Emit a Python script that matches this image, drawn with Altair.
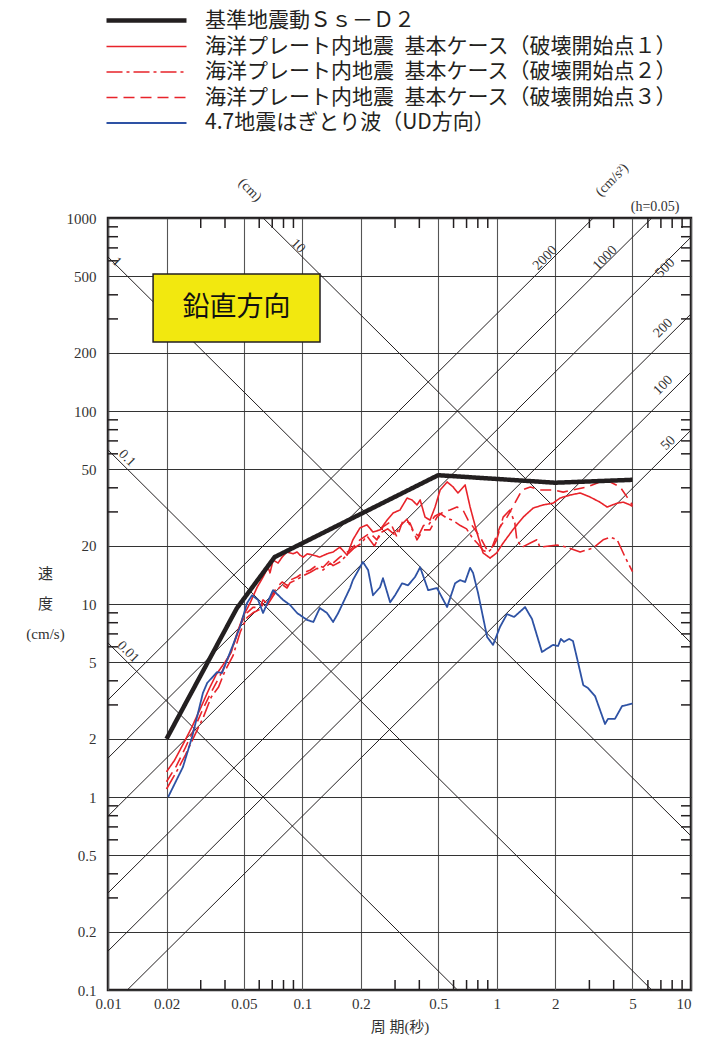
import math
import altair as alt
import pandas as pd

# ---------------- data ----------------
SERIES = [
    "基準地震動Ｓｓ－Ｄ２",
    "海洋プレート内地震\u2002基本ケース（破壊開始点１）",
    "海洋プレート内地震\u2002基本ケース（破壊開始点２）",
    "海洋プレート内地震\u2002基本ケース（破壊開始点３）",
    "4.7地震はぎとり波（UD方向）",
]
COLORS = ["#231F20", "#E8232A", "#E8232A", "#E8232A", "#2E52A4"]
DASHES = [[1, 0], [1, 0], [16, 4, 3, 4], [11, 6], [1, 0]]
WIDTHS = [4.5, 1.6, 1.6, 1.6, 1.8]

T_ss = [0.02, 0.046, 0.072, 0.5, 2.0, 5.0]
V_ss = [2.0, 9.5, 17.5, 46.5, 42.5, 44.0]

T_r1 = [0.02, 0.022, 0.0245, 0.027, 0.030, 0.033, 0.036, 0.040, 0.043, 0.046, 0.0495, 0.0538,
        0.0585, 0.0628, 0.0666, 0.0682, 0.0707, 0.0750, 0.0787, 0.0834, 0.0896, 0.0940, 0.0973,
        0.101, 0.106, 0.114, 0.123, 0.134, 0.144, 0.156, 0.170, 0.182, 0.198, 0.215, 0.231, 0.251,
        0.273, 0.293, 0.318, 0.346, 0.367, 0.389, 0.404, 0.428, 0.454, 0.482, 0.512, 0.556, 0.597,
        0.632, 0.688, 0.730, 0.793, 0.851, 0.925, 1.00, 1.08, 1.21, 1.37, 1.54, 1.73, 1.95, 2.12,
        2.39, 2.69, 3.03, 3.40, 3.70, 4.17, 4.48, 4.86, 5.0]
V_r1 = [1.35, 1.55, 1.9, 2.3, 2.9, 3.6, 4.3, 5.0, 5.6, 7.0, 8.6, 10.1, 12.2, 13.8, 15.5, 14.5,
        16.9, 16.3, 17.5, 18.6, 18.2, 18.6, 17.9, 17.5, 18.2, 17.9, 17.5, 18.2, 18.6, 19.7, 17.9,
        21.5, 24.8, 25.7, 23.6, 24.2, 27.2, 29.6, 30.7, 35.4, 34.6, 32.6, 34.6, 28.2, 27.2, 31.8,
        39.0, 42.9, 40.4, 37.6, 41.4, 31.8, 23.3, 18.4, 17.3, 18.4, 20.7, 24.2, 28.2, 31.4, 32.6,
        33.3, 35.4, 36.7, 37.6, 35.8, 33.7, 31.8, 33.3, 33.7, 32.6, 32.0]

T_r2 = [0.02, 0.0225, 0.025, 0.028, 0.031, 0.034, 0.037, 0.040, 0.044, 0.048, 0.0519, 0.0557,
        0.0606, 0.0628, 0.0658, 0.0707, 0.0741, 0.0787, 0.0834, 0.0865, 0.094, 0.101, 0.110, 0.119,
        0.128, 0.139, 0.144, 0.156, 0.170, 0.185, 0.200, 0.215, 0.235, 0.255, 0.275, 0.300, 0.320,
        0.345, 0.370, 0.395, 0.420, 0.450, 0.480, 0.510, 0.550, 0.600, 0.650, 0.700, 0.750, 0.800,
        0.850, 0.900, 0.950, 1.00, 1.08, 1.17, 1.24, 1.27, 1.35, 1.49, 1.61, 1.67, 2.05, 2.30,
        2.69, 3.13, 3.53, 3.84, 4.17, 4.58, 5.0]
V_r2 = [1.1, 1.35, 1.65, 2.1, 2.6, 3.3, 3.7, 4.5, 5.4, 7.2, 8.5, 9.0, 9.4, 10.0, 9.8, 11.0, 11.8,
        12.6, 12.1, 12.9, 13.4, 14.0, 14.6, 15.3, 15.0, 16.3, 15.8, 16.5, 18.0, 19.5, 20.5, 22.5,
        20.0, 23.5, 24.5, 22.8, 25.5, 27.5, 24.0, 22.5, 25.5, 26.0, 28.5, 29.5, 28.0, 27.0, 25.5,
        24.5, 22.0, 20.5, 19.0, 18.5, 19.5, 21.5, 28.2, 30.7, 26.3, 21.5, 19.7, 20.7, 21.5, 19.7,
        20.2, 19.7, 18.6, 19.5, 21.5, 22.2, 21.5, 17.5, 14.7]

T_r3 = [0.02, 0.0225, 0.025, 0.028, 0.031, 0.034, 0.037, 0.040, 0.044, 0.048, 0.0519, 0.0557,
        0.0606, 0.0628, 0.0658, 0.0707, 0.0741, 0.0787, 0.0834, 0.0865, 0.094, 0.101, 0.110, 0.119,
        0.128, 0.139, 0.144, 0.156, 0.176, 0.198, 0.223, 0.242, 0.260, 0.283, 0.307, 0.330, 0.358,
        0.389, 0.418, 0.454, 0.493, 0.530, 0.575, 0.625, 0.671, 0.713, 0.756, 0.822, 0.893, 0.947,
        1.04, 1.13, 1.21, 1.35, 1.49, 1.67, 1.95, 2.20, 2.47, 2.92, 3.40, 3.84, 4.32, 4.69, 5.0]
V_r3 = [1.2, 1.45, 1.8, 2.3, 2.9, 3.5, 4.1, 4.8, 6.0, 7.8, 9.0, 9.6, 9.6, 10.5, 10.1, 11.4, 12.2,
        13.0, 12.5, 13.3, 13.8, 14.5, 15.0, 15.9, 15.5, 16.9, 16.3, 17.5, 19.0, 21.5, 23.3, 21.5,
        25.1, 26.6, 22.2, 27.2, 26.3, 21.5, 24.2, 24.2, 28.2, 30.0, 30.7, 31.8, 30.7, 27.2, 25.1,
        22.2, 19.0, 19.7, 25.1, 28.2, 31.8, 39.0, 40.4, 39.0, 39.0, 38.0, 39.0, 40.4, 42.9, 42.9,
        40.4, 35.8, 32.5]

T_b = [0.0204, 0.0243, 0.0271, 0.0308, 0.0324, 0.0364, 0.0386, 0.0410, 0.0478, 0.0519, 0.0551,
       0.0592, 0.0628, 0.0682, 0.0707, 0.0796, 0.0865, 0.0940, 0.106, 0.114, 0.123, 0.134, 0.144,
       0.153, 0.176, 0.182, 0.205, 0.218, 0.231, 0.251, 0.260, 0.283, 0.300, 0.326, 0.350, 0.380,
       0.404, 0.444, 0.493, 0.556, 0.611, 0.648, 0.688, 0.730, 0.756, 0.802, 0.893, 0.958, 1.04,
       1.13, 1.23, 1.40, 1.52, 1.71, 1.95, 2.07, 2.14, 2.22, 2.36, 2.47, 2.62, 2.79, 2.95, 3.21,
       3.61, 3.74, 4.06, 4.42, 4.69, 5.0]
V_b = [1.0, 1.43, 2.05, 3.46, 3.90, 4.44, 4.39, 5.13, 7.60, 10.1, 11.1, 10.5, 8.98, 10.9, 11.8,
       10.5, 9.88, 8.98, 8.26, 8.07, 9.53, 8.98, 8.07, 8.98, 12.1, 13.3, 16.5, 15.0, 11.1, 12.2,
       13.6, 10.2, 11.1, 12.8, 12.5, 13.8, 15.5, 11.8, 12.1, 9.64, 12.8, 13.3, 13.0, 15.4, 14.5,
       11.4, 6.75, 6.14, 7.60, 8.87, 8.57, 9.64, 8.36, 5.64, 6.14, 6.06, 6.59, 6.36, 6.59, 6.43,
       5.00, 3.80, 3.67, 3.33, 2.39, 2.54, 2.54, 2.96, 3.00, 3.05]

# axes / grid
XT = [0.01, 0.02, 0.05, 0.1, 0.2, 0.5, 1, 2, 5, 10]
YT = [0.1, 0.2, 0.5, 1, 2, 5, 10, 20, 50, 100, 200, 500, 1000]
X_MINOR = [0.03, 0.04, 0.06, 0.07, 0.08, 0.09, 0.3, 0.4, 0.6, 0.7, 0.8, 0.9, 3, 4, 6, 7, 8, 9]
Y_MINOR = [0.3, 0.4, 0.6, 0.7, 0.8, 0.9, 3, 4, 6, 7, 8, 9, 30, 40, 60, 70, 80, 90,
           300, 400, 600, 700, 800, 900]

# tripartite guide lines: displacement (cm) and acceleration (cm/s2)
DISP = [0.01, 0.1, 1, 10]
ACC = [50, 100, 200, 500, 1000, 2000]

# guide labels (text, T, V, angle)
ANN_TEXT = ["1", "10", "0.1", "0.01", "2000", "1000", "500", "200", "100", "50",
            "(cm)", "(cm/s²)", "(h=0.05)"]
ANN_T = [0.0111, 0.0950, 0.01253, 0.01268, 1.775, 3.61, 7.36, 7.18, 7.18, 7.62,
         0.0538, 3.93, 6.54]
ANN_V = [592, 716, 57.0, 5.64, 621, 621, 551, 269, 136, 68.2, 1396, 1574, 1140]
ANN_ANGLE = [45, 45, 45, 45, 315, 315, 315, 315, 315, 315, 45, 315, 0]

BOX_T = [0.01706, 0.1233]
BOX_V = [228, 513]
BOX_LABEL = "鉛直方向"

# ---------------- tables ----------------
rows = []
for name, ts, vs in zip(SERIES, [T_ss, T_r1, T_r2, T_r3, T_b], [V_ss, V_r1, V_r2, V_r3, V_b]):
    for i, (t, v) in enumerate(zip(ts, vs)):
        rows.append({"series": name, "T": t, "V": v, "i": i})
curves = pd.DataFrame(rows)

TWO_PI = 2 * math.pi
drows = []
for d in DISP:
    for t in (max(0.01, TWO_PI * d / 1000), min(10, TWO_PI * d / 0.1)):
        drows.append({"key": f"d{d}", "T": t, "V": TWO_PI * d / t})
for a in ACC:
    for t in (max(0.01, TWO_PI * 0.1 / a), min(10, TWO_PI * 1000 / a)):
        drows.append({"key": f"a{a}", "T": t, "V": a * t / TWO_PI})
diag = pd.DataFrame(drows)

ann = pd.DataFrame({"text": ANN_TEXT, "T": ANN_T, "V": ANN_V, "angle": ANN_ANGLE})
box = pd.DataFrame({"T": [BOX_T[0]], "T2": [BOX_T[1]], "V": [BOX_V[0]], "V2": [BOX_V[1]],
                    "Tc": [math.sqrt(BOX_T[0] * BOX_T[1])], "Vc": [math.sqrt(BOX_V[0] * BOX_V[1])],
                    "label": [BOX_LABEL]})
xminor = pd.DataFrame({"T": X_MINOR})
yminor = pd.DataFrame({"V": Y_MINOR})

# ---------------- scales / axes ----------------
W, H = 583, 772
SERIF = "Liberation Serif, Noto Sans CJK JP"
xs = alt.Scale(type="log", domain=[0.01, 10], nice=False)
ys = alt.Scale(type="log", domain=[0.1, 1000], nice=False)

xaxis = alt.Axis(values=XT, grid=True, gridColor="#555555", gridWidth=1.1, ticks=False,
                 domain=False, labelFont=SERIF, labelFontSize=15, labelColor="#333333",
                 labelPadding=6, labelFlush=False, labelOverlap=False, format="~g",
                 labelAlign={"condition": {"test": "datum.value >= 10", "value": "right"},
                             "value": "center"},
                 titleFont=SERIF, titleFontSize=15, titleFontWeight="normal",
                 titleColor="#333333", titleX=W / 2, titleY=36, titleBaseline="middle",
                 titleAlign="center")
yaxis = alt.Axis(values=YT, grid=True, gridColor="#333333", gridWidth=1.0, ticks=False,
                 domain=False, labelFont=SERIF, labelFontSize=15, labelColor="#333333",
                 labelPadding=12, labelFlush=False, labelOverlap=False, format="~g",
                 titleFont=SERIF, titleFontSize=15, titleFontWeight="normal",
                 titleColor="#333333", titleAngle=0, titleX=-63, titleY=348,
                 titleBaseline="top", titleAlign="center", titleLineHeight=30)
XTITLE = "周 期(秒)"
YTITLE = ["速", "度", "(cm/s)"]


def X(field="T"):
    return alt.X(f"{field}:Q", scale=xs, axis=xaxis, title=XTITLE)


def Y(field="V"):
    return alt.Y(f"{field}:Q", scale=ys, axis=yaxis, title=YTITLE)


# ---------------- layers ----------------
diag_layer = alt.Chart(diag).mark_line(color="#231F20", strokeWidth=1.0).encode(
    x=X(), y=Y(), detail="key:N")

xminor_bottom = alt.Chart(xminor).mark_rule(color="#231F20", strokeWidth=1.5).encode(
    x=X(), y=alt.value(H - 10), y2=alt.value(H))
xminor_top = alt.Chart(xminor).mark_rule(color="#231F20", strokeWidth=1.5).encode(
    x=X(), y=alt.value(0), y2=alt.value(10))
yminor_left = alt.Chart(yminor).mark_rule(color="#231F20", strokeWidth=1.5).encode(
    y=Y(), x=alt.value(0), x2=alt.value(10))
yminor_right = alt.Chart(yminor).mark_rule(color="#231F20", strokeWidth=1.5).encode(
    y=Y(), x=alt.value(W - 10), x2=alt.value(W))

ann_layer = alt.Chart(ann).mark_text(font="Liberation Serif", fontSize=14, color="#333333",
                                     align="center", baseline="middle").encode(
    x=X(), y=Y(), text="text:N", angle=alt.Angle("angle:Q", scale=None))

box_rect = alt.Chart(box).mark_rect(fill="#F2E80F", stroke="#231F20", strokeWidth=1.5).encode(
    x=X(), x2="T2:Q", y=Y(), y2="V2:Q")
box_text = alt.Chart(box).mark_text(font="Noto Sans CJK JP", fontSize=27, color="#111111",
                                    align="center", baseline="middle").encode(
    x=X("Tc"), y=Y("Vc"), text="label:N")

leg = alt.Legend(title=None, orient="none", legendX=26, legendY=-210, padding=0,
                 symbolType="M-4,0L4,0", symbolSize=400, labelFont="Noto Sans CJK JP",
                 labelFontSize=21, labelColor="#231F20", labelOffset=46, labelLimit=800,
                 rowPadding=4.5)

base = alt.Chart(curves).mark_line(strokeJoin="round").encode(
    x=X(), y=Y(),
    color=alt.Color("series:N", scale=alt.Scale(domain=SERIES, range=COLORS), legend=leg),
    strokeDash=alt.StrokeDash("series:N", scale=alt.Scale(domain=SERIES, range=DASHES), legend=leg),
    strokeWidth=alt.StrokeWidth("series:N",
                                scale=alt.Scale(type="ordinal", domain=SERIES, range=WIDTHS),
                                legend=leg),
    order="i:Q",
)
red = base.transform_filter(alt.FieldOneOfPredicate(field="series", oneOf=SERIES[1:4]))
blue = base.transform_filter(alt.FieldEqualPredicate(field="series", equal=SERIES[4]))
black = base.transform_filter(alt.FieldEqualPredicate(field="series", equal=SERIES[0]))

chart = alt.layer(
    diag_layer, xminor_bottom, xminor_top, yminor_left, yminor_right,
    box_rect, box_text, ann_layer, red, blue, black,
).properties(
    width=W, height=H,
    autosize=alt.AutoSizeParams(type="none"),
    padding={"left": 100, "top": 210, "right": 3, "bottom": 47},
    background="white",
).configure_view(stroke="#231F20", strokeWidth=2.5)

chart.save("out.html", embed_options={"renderer": "svg", "actions": False})
